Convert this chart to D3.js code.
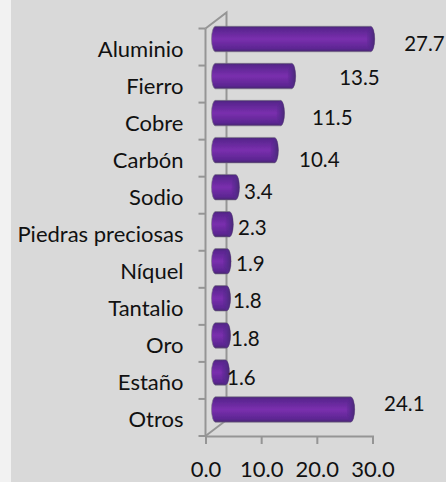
<!DOCTYPE html>
<html><head><meta charset="utf-8">
<script src="https://cdn.jsdelivr.net/npm/d3@7"></script>
<style>html,body{margin:0;padding:0;background:#f2f2f2}svg{display:block}text{font-family:Lato,"Open Sans",sans-serif;fill:#111}</style>
</head><body><script>
const categories=["Aluminio","Fierro","Cobre","Carbón","Sodio","Piedras preciosas","Níquel","Tantalio","Oro","Estaño","Otros"];
const values=[27.7,13.5,11.5,10.4,3.4,2.3,1.9,1.8,1.8,1.6,24.1];
const valueTicks=[0,10,20,30];
const labelDx=[29.5,43.5,27.5,20.7,4.6,4.7,5,2.5,0.5,-2.4,29.4];
const labelDy=[5,2,5,10,5,4,3,2,3,5,-6];

const W=446,H=482;
const svg=d3.select("body").append("svg").attr("width",W).attr("height",H);
const defs=svg.append("defs");
const grad=defs.append("linearGradient").attr("id","body").attr("x1",0).attr("y1",0).attr("x2",0).attr("y2",1);
[[0,"#4a2a78"],[0.1,"#5a2690"],[0.5,"#7a2fae"],[0.88,"#5c2692"],[1,"#47286e"]].forEach(s=>grad.append("stop").attr("offset",s[0]).attr("stop-color",s[1]));
const capG=defs.append("linearGradient").attr("id","cap").attr("x1",0).attr("y1",0).attr("x2",1).attr("y2",0);
[[0,"#5a2690",0.25],[0.55,"#552a8c",0.85],[1,"#4a2a74",1]].forEach(s=>capG.append("stop").attr("offset",s[0]).attr("stop-color",s[1]).attr("stop-opacity",s[2]));
defs.append("filter").attr("id","soft").append("feGaussianBlur").attr("stdDeviation",0.45);

svg.append("rect").attr("x",11).attr("y",0).attr("width",W-11).attr("height",H).attr("fill","#d9d9d9");

const x=d3.scaleLinear().domain([0,30]).range([205.5,372.5]);
const y=d3.scaleBand().domain(categories).range([28.5,436]);
const axisCol="#959595";
const depth=[21,-16];

const g=svg.append("g").attr("fill","none").attr("stroke",axisCol).attr("stroke-width",2);
g.append("path").attr("d",`M${x(0)},${y.range()[0]}L${x(0)+depth[0]},${y.range()[0]+depth[1]}V${y.range()[1]+depth[1]}`);
g.append("path").attr("d",`M${x(0)},${y.range()[1]}L${x(0)+depth[0]},${y.range()[1]+depth[1]}`);

const ax=d3.axisBottom(x).tickValues(valueTicks).tickFormat(d3.format(".1f")).tickSizeOuter(0).tickSize(8).tickPadding(17);
const gx=svg.append("g").attr("transform",`translate(0,${y.range()[1]})`).call(ax);
gx.selectAll("path,line").attr("stroke",axisCol).attr("stroke-width",2);
gx.selectAll("text").attr("font-size",22).attr("fill","#111").attr("dy","0.72em");

const ay=d3.axisLeft(y).tickSize(0).tickPadding(22);
const gy=svg.append("g").attr("transform",`translate(${x(0)},2)`).call(ay);
gy.select("path").remove();
gy.selectAll("text").attr("font-size",22).attr("fill","#111").attr("dy","0.34em");
const tickEdges=categories.map(c=>y(c)).concat([y.range()[1]]);
svg.append("g").selectAll("line").data(tickEdges).join("line")
  .attr("x1",x(0)-7).attr("x2",x(0)).attr("y1",d=>d).attr("y2",d=>d)
  .attr("stroke",axisCol).attr("stroke-width",2);
svg.append("line").attr("x1",x(0)).attr("x2",x(0)).attr("y1",y.range()[0]).attr("y2",y.range()[1]).attr("stroke",axisCol).attr("stroke-width",2);

const barH=25.5,barTop=d=>y(d)+y.bandwidth()/2-barH/2-8;
const bars=svg.append("g").attr("filter","url(#soft)").selectAll("g").data(categories).join("g");
bars.each(function(c,i){
  const s=d3.select(this),v=values[i];
  const x0=x(0)+6,x1=x(v)+15,t=barTop(c),rx=4,cy=t+barH/2;
  s.append("path").attr("d",`M${x0+rx},${t}H${x1-rx}A${rx},${barH/2} 0 0 1 ${x1-rx},${t+barH}H${x0+rx}A${rx},${barH/2} 0 0 1 ${x0+rx},${t}Z`)
    .attr("fill","url(#body)").attr("stroke","#7d7a86").attr("stroke-width",0.6);
  s.append("ellipse").attr("cx",x1-rx).attr("cy",cy).attr("rx",rx).attr("ry",barH/2-0.5).attr("fill","url(#cap)");
});

svg.append("g").selectAll("text").data(categories).join("text")
  .attr("x",(c,i)=>x(values[i])+15+labelDx[i]).attr("y",(c,i)=>barTop(c)+barH/2+labelDy[i])
  .attr("dy","0.35em").attr("font-size",20.5).text((c,i)=>values[i].toFixed(1));
</script></body></html>
